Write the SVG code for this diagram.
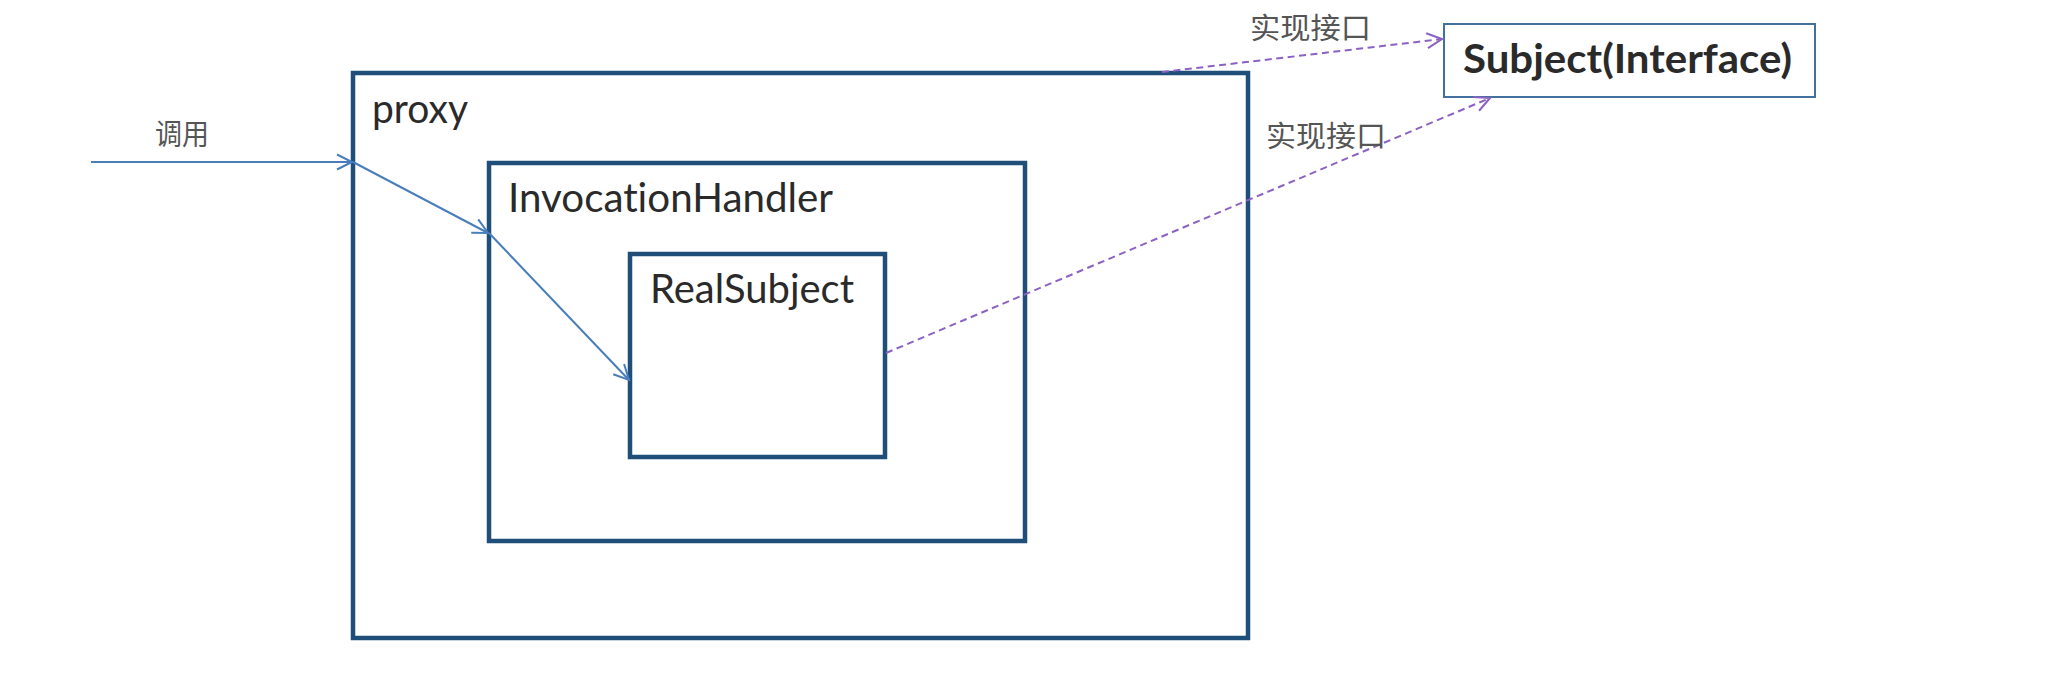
<svg xmlns="http://www.w3.org/2000/svg" width="2060" height="690" viewBox="0 0 2060 690">
  <style>
    .box { fill: none; stroke: #1f4e79; stroke-width: 4.5; }
    .ibox { fill: #ffffff; stroke: #41719c; stroke-width: 2; }
    .lbl { font-family: Lato, "Open Sans", "Liberation Sans", sans-serif; font-size: 40px; fill: #2a2a2a; font-variant-ligatures: none; }
    .bold { font-weight: bold; }
    .cn { font-family: "Liberation Serif", "Noto Sans CJK SC", serif; font-size: 29px; fill: #555555; }
    .call { fill: none; stroke: #4a7ebb; stroke-width: 2; }
    .impl { fill: none; stroke: #8b62c4; stroke-width: 2; stroke-dasharray: 7 4.5; }
  </style>
  <defs>
    <marker id="arrBlue" markerUnits="userSpaceOnUse" markerWidth="24" markerHeight="24" viewBox="-20 -12 24 24" refX="0" refY="0" orient="auto">
      <path d="M-15,-7.5 L0,0 L-15,7.5" fill="none" stroke="#4a7ebb" stroke-width="2"/>
    </marker>
    <marker id="arrPurple" markerUnits="userSpaceOnUse" markerWidth="24" markerHeight="24" viewBox="-20 -12 24 24" refX="0" refY="0" orient="auto">
      <path d="M-15,-7.5 L0,0 L-15,7.5" fill="none" stroke="#8b62c4" stroke-width="2"/>
    </marker>
  </defs>
  <rect width="2060" height="690" fill="#ffffff"/>

  <g id="proxy">
    <rect class="box" x="353" y="73" width="895" height="565"/>
    <text class="lbl" x="372" y="123" textLength="96" lengthAdjust="spacingAndGlyphs">proxy</text>
  </g>
  <g id="invocationHandler">
    <rect class="box" x="489" y="163" width="536" height="378"/>
    <text class="lbl" x="508" y="212" textLength="325" lengthAdjust="spacingAndGlyphs">InvocationHandler</text>
  </g>
  <g id="realSubject">
    <rect class="box" x="630" y="254" width="255" height="203"/>
    <text class="lbl" x="650" y="303" textLength="204" lengthAdjust="spacingAndGlyphs">RealSubject</text>
  </g>
  <g id="subject">
    <rect class="ibox" x="1444" y="24" width="371" height="73"/>
    <text class="lbl bold" x="1463" y="73" textLength="329" lengthAdjust="spacingAndGlyphs">Subject(Interface)</text>
  </g>

  <g id="connectors">
    <line class="call" x1="91" y1="162" x2="352" y2="162" marker-end="url(#arrBlue)"/>
    <line class="call" x1="353" y1="162" x2="488" y2="233" marker-end="url(#arrBlue)"/>
    <line class="call" x1="489" y1="233" x2="629" y2="380" marker-end="url(#arrBlue)"/>
    <line class="impl" x1="1162" y1="72" x2="1442" y2="39" marker-end="url(#arrPurple)"/>
    <line class="impl" x1="886" y1="353" x2="1490" y2="98" marker-end="url(#arrPurple)"/>
    <text class="cn" x="155" y="145" textLength="54" lengthAdjust="spacingAndGlyphs">调用</text>
    <text class="cn" x="1250" y="39" textLength="121" lengthAdjust="spacingAndGlyphs">实现接口</text>
    <text class="cn" x="1266" y="147" textLength="120" lengthAdjust="spacingAndGlyphs">实现接口</text>
  </g>
</svg>
